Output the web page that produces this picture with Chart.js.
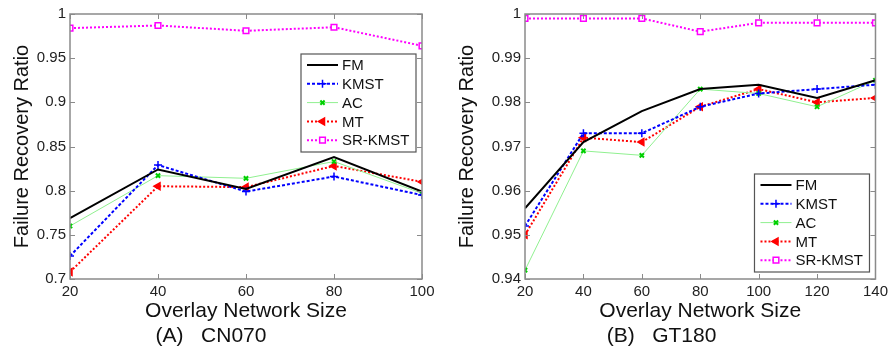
<!DOCTYPE html>
<html>
<head>
<meta charset="utf-8">
<script src="https://cdn.jsdelivr.net/npm/chart.js@4/dist/chart.umd.min.js"></script>
<style>
  body { margin: 0; background: #fff; }
  #wrap { position: relative; width: 892px; height: 352px; }
  canvas { position: absolute; top: 0; }
</style>
</head>
<body>
<div id="wrap">
  <canvas id="chartA" width="445" height="352" style="left:0"></canvas>
  <canvas id="chartB" width="447" height="352" style="left:445px"></canvas>
</div>
<script>
const seriesNames = ['FM', 'KMST', 'AC', 'MT', 'SR-KMST'];

// (A) CN070
const sizesA = [20, 40, 60, 80, 100];
const fmA     = [0.769, 0.824, 0.802, 0.838, 0.799];
const kmstA   = [0.726, 0.829, 0.799, 0.816, 0.795];
const acA     = [0.760, 0.817, 0.814, 0.833, 0.797];
const mtA     = [0.708, 0.805, 0.804, 0.828, 0.810];
const srKmstA = [0.984, 0.987, 0.981, 0.985, 0.964];

// (B) GT180
const sizesB = [20, 40, 60, 80, 100, 120, 140];
const fmB     = [0.956, 0.971, 0.978, 0.983, 0.984, 0.981, 0.985];
const kmstB   = [0.952, 0.973, 0.973, 0.979, 0.982, 0.983, 0.984];
const acB     = [0.942, 0.969, 0.968, 0.983, 0.982, 0.979, 0.985];
const mtB     = [0.950, 0.972, 0.971, 0.979, 0.983, 0.980, 0.981];
const srKmstB = [0.999, 0.999, 0.999, 0.996, 0.998, 0.998, 0.998];

const FONT = "'Liberation Sans', Arial, sans-serif";

// line / marker look per series (matlab-ish)
const styles = [
  { color: '#000000', fill: '#000000', width: 2,   dash: [],     point: false,      r: 0 },
  { color: '#0000ff', fill: '#0000ff', width: 2,   dash: [3, 2], point: 'cross',    r: 4 },
  { color: '#90f090', fill: '#00d000', width: 1,   dash: [],     point: 'crossRot', r: 3 },
  { color: '#ff0000', fill: '#ff0000', width: 2,   dash: [2, 2], point: 'triangle', r: 4, rot: -90 },
  { color: '#ff00ff', fill: '#ffffff', width: 2,   dash: [2, 2], point: 'rect',     r: 4 }
];

function makeDatasets(xs, lists) {
  return lists.map((vals, i) => {
    const s = styles[i];
    return {
      label: seriesNames[i],
      data: xs.map((x, j) => ({ x: x, y: vals[j] })),
      borderColor: s.color,
      borderWidth: s.width,
      borderDash: s.dash,
      pointStyle: s.point,
      pointRadius: s.r,
      pointRotation: s.rot || 0,
      pointBorderColor: i === 4 ? '#ff00ff' : s.fill,
      pointBackgroundColor: s.fill,
      pointBorderWidth: i === 2 ? 2 : 1.5,
      tension: 0
    };
  });
}

// box around plot + inward ticks, like the original figure
const boxPlugin = {
  id: 'box',
  afterDatasetsDraw(chart) {
    const { ctx, chartArea: a, scales } = chart;
    ctx.save();
    ctx.strokeStyle = '#8a8a8a';
    ctx.lineWidth = 1;
    ctx.beginPath();
    scales.x.ticks.forEach(t => {
      const px = Math.round(scales.x.getPixelForValue(t.value)) + 0.5;
      ctx.moveTo(px, a.bottom); ctx.lineTo(px, a.bottom - 5);
      ctx.moveTo(px, a.top); ctx.lineTo(px, a.top + 5);
    });
    scales.y.ticks.forEach(t => {
      const py = Math.round(scales.y.getPixelForValue(t.value)) + 0.5;
      ctx.moveTo(a.left, py); ctx.lineTo(a.left + 5, py);
      ctx.moveTo(a.right, py); ctx.lineTo(a.right - 5, py);
    });
    ctx.stroke();
    ctx.lineWidth = 1.5;
    ctx.strokeRect(a.left, a.top, a.right - a.left, a.bottom - a.top);
    ctx.restore();
  }
};

// legend box drawn inside the plot area
const boxLegend = {
  id: 'boxLegend',
  afterDraw(chart, args, opts) {
    const { ctx, chartArea: a } = chart;
    const w = 115, h = 98, rowH = 18.8;
    const left = a.right - 6 - w;
    const top = opts.corner === 'se' ? a.bottom - 7 - h : a.top + 40;
    ctx.save();
    ctx.fillStyle = '#fff';
    ctx.fillRect(left, top, w, h);
    ctx.strokeStyle = '#555';
    ctx.lineWidth = 1.2;
    ctx.strokeRect(left, top, w, h);
    chart.data.datasets.forEach((ds, i) => {
      const y = top + 11 + i * rowH;
      ctx.strokeStyle = ds.borderColor;
      ctx.lineWidth = ds.borderWidth;
      ctx.setLineDash(ds.borderDash);
      ctx.beginPath();
      ctx.moveTo(left + 6, y); ctx.lineTo(left + 37, y);
      ctx.stroke();
      ctx.setLineDash([]);
      if (ds.pointStyle) {
        ctx.strokeStyle = ds.pointBorderColor;
        ctx.fillStyle = ds.pointBackgroundColor;
        ctx.lineWidth = ds.pointBorderWidth;
        Chart.helpers.drawPoint(ctx, {
          pointStyle: ds.pointStyle, radius: ds.pointRadius,
          rotation: ds.pointRotation, borderWidth: ds.pointBorderWidth
        }, left + 21.5, y);
      }
      ctx.fillStyle = '#111';
      ctx.font = '15px ' + FONT;
      ctx.textBaseline = 'middle';
      ctx.textAlign = 'left';
      ctx.fillText(ds.label, left + 41, y + 1);
    });
    ctx.restore();
  }
};

function fmtTick(v) {
  return String(parseFloat(v.toFixed(3)));
}

function makeChart(id, xs, lists, xMax, yMin, yStep, yWidth, rightPad, caption, corner) {
  const ctx = document.getElementById(id).getContext('2d');
  return new Chart(ctx, {
    type: 'line',
    data: { datasets: makeDatasets(xs, lists) },
    options: {
      responsive: false,
      animation: false,
      devicePixelRatio: 1,
      layout: { padding: { top: 14, right: rightPad, left: 0, bottom: 3 } },
      scales: {
        x: {
          type: 'linear', min: 20, max: xMax,
          grid: { display: false, drawTicks: false, tickLength: 0 }, border: { display: false },
          ticks: { stepSize: 20, color: '#222', padding: 4, maxRotation: 0,
                   font: { family: FONT, size: 15 } },
          title: { display: true, text: 'Overlay Network Size', color: '#111',
                   font: { family: FONT, size: 21 }, padding: { top: 1, bottom: 0 } },
          afterFit(s) { s.height = 44.8; }
        },
        y: {
          min: yMin, max: 1,
          grid: { display: false, drawTicks: false, tickLength: 0 }, border: { display: false },
          ticks: { stepSize: yStep, color: '#222', padding: 4, callback: fmtTick,
                   font: { family: FONT, size: 15 } },
          title: { display: true, text: 'Failure Recovery Ratio', color: '#111',
                   font: { family: FONT, size: 20 }, padding: { top: 10, bottom: 0 } },
          afterFit(s) { s.width = yWidth; }
        }
      },
      plugins: {
        legend: { display: false },
        tooltip: { enabled: false },
        title: { display: true, position: 'bottom', text: caption, color: '#111',
                 font: { family: FONT, size: 21, weight: 'normal' }, padding: 0 },
        boxLegend: { corner: corner }
      }
    },
    plugins: [boxPlugin, boxLegend]
  });
}

makeChart('chartA', sizesA, [fmA, kmstA, acA, mtA, srKmstA], 100, 0.7, 0.05, 70, 23, '(A)   CN070', 'ne');
makeChart('chartB', sizesB, [fmB, kmstB, acB, mtB, srKmstB], 140, 0.94, 0.01, 80, 14, '(B)   GT180', 'se');
</script>
</body>
</html>
